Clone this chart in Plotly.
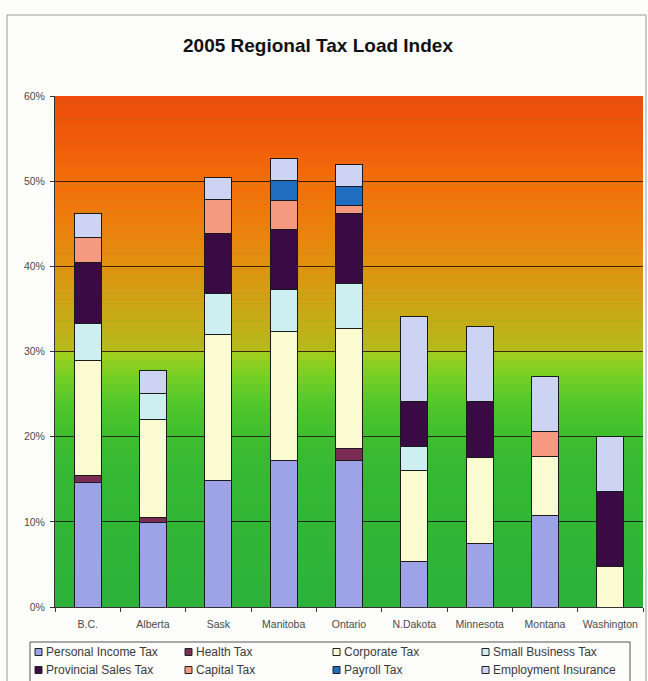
import plotly.graph_objects as go

# ---- data (percent of income) ----
regions = ["B.C.", "Alberta", "Sask", "Manitoba", "Ontario",
           "N.Dakota", "Minnesota", "Montana", "Washington"]

personal_income = [14.6, 9.9, 14.8, 17.2, 17.2, 5.4, 7.5, 10.7, 0.0]
health = [0.8, 0.6, 0.0, 0.0, 1.4, 0.0, 0.0, 0.0, 0.0]
corporate = [13.6, 11.5, 17.2, 15.1, 14.1, 10.6, 10.0, 7.0, 4.7]
small_business = [4.3, 3.1, 4.8, 5.0, 5.3, 2.9, 0.0, 0.0, 0.0]
provincial_sales = [7.2, 0.0, 7.1, 7.0, 8.2, 5.2, 6.6, 0.0, 8.9]
capital = [2.9, 0.0, 4.0, 3.4, 1.0, 0.0, 0.0, 2.9, 0.0]
payroll = [0.0, 0.0, 0.0, 2.4, 2.2, 0.0, 0.0, 0.0, 0.0]
employment_ins = [2.8, 2.7, 2.5, 2.6, 2.6, 10.0, 8.8, 6.5, 6.4]

series_names = ["Personal Income Tax", "Health Tax", "Corporate Tax",
                "Small Business Tax", "Provincial Sales Tax", "Capital Tax",
                "Payroll Tax", "Employment Insurance"]
series_values = [personal_income, health, corporate, small_business,
                 provincial_sales, capital, payroll, employment_ins]
series_colors = ["#9da3e6", "#7a2c55", "#fbfbd2", "#cdeff2",
                 "#3a0a45", "#f59a80", "#1f6dbf", "#cdd3f2"]

y_ticks = [0, 10, 20, 30, 40, 50, 60]
y_tick_labels = ["0%", "10%", "20%", "30%", "40%", "50%", "60%"]

FONT = "Liberation Sans, Arial, sans-serif"
W, H = 648, 681
L, R, T, B = 55, 5, 96, 74
PW, PH = W - L - R, H - T - B


def px_x(x):
    return (x - L) / PW


def px_y(y):
    return (H - B - y) / PH


fig = go.Figure()

for name, vals, col in zip(series_names, series_values, series_colors):
    fig.add_trace(go.Bar(
        x=regions,
        y=[v if v > 0 else None for v in vals],
        name=name,
        marker=dict(color=col, line=dict(color="#1a1a1a", width=1)),
        showlegend=False,
    ))

shapes = []

# background gradient, green at the bottom to orange-red at the top
stops = [
    (0, (44, 178, 58)), (15, (52, 184, 52)), (20, (62, 190, 46)),
    (24, (82, 200, 42)), (27, (118, 208, 36)), (29.8, (160, 206, 30)),
    (30.2, (182, 186, 28)), (35, (204, 166, 22)), (40, (224, 146, 16)),
    (45, (238, 126, 12)), (50, (243, 110, 10)), (55, (240, 90, 10)),
    (60, (236, 76, 10)),
]


def grad_color(v):
    for (v0, c0), (v1, c1) in zip(stops[:-1], stops[1:]):
        if v0 <= v <= v1:
            t = (v - v0) / (v1 - v0) if v1 > v0 else 0
            c = [round(a + (b - a) * t) for a, b in zip(c0, c1)]
            return "rgb(%d,%d,%d)" % tuple(c)
    return "rgb(%d,%d,%d)" % stops[-1][1]


step = 0.4
n = int(60 / step)
for i in range(n):
    lo = i * step
    hi = min(60, lo + step + 0.05)
    shapes.append(dict(
        type="rect", xref="paper", yref="y", x0=0, x1=1, y0=lo, y1=hi,
        fillcolor=grad_color(lo + step / 2), line=dict(width=0), layer="below",
    ))

# outer chart frame
shapes.append(dict(
    type="rect", xref="paper", yref="paper",
    x0=px_x(7), x1=px_x(646), y0=px_y(700), y1=px_y(15),
    line=dict(color="#9a9a9a", width=1), fillcolor="rgba(0,0,0,0)", layer="below",
))

# legend box
shapes.append(dict(
    type="rect", xref="paper", yref="paper",
    x0=px_x(30), x1=px_x(630), y0=px_y(700), y1=px_y(642),
    line=dict(color="#555555", width=1), fillcolor="rgba(0,0,0,0)",
))

annotations = []
col_x = [35, 185, 333, 482]
row_y = [652, 670]
for i, (name, col) in enumerate(zip(series_names, series_colors)):
    cx = col_x[i % 4]
    cy = row_y[i // 4]
    shapes.append(dict(
        type="rect", xref="paper", yref="paper",
        x0=px_x(cx), x1=px_x(cx + 7), y0=px_y(cy + 3.5), y1=px_y(cy - 3.5),
        fillcolor=col, line=dict(color="#222222", width=1),
    ))
    annotations.append(dict(
        xref="paper", yref="paper", x=px_x(cx + 9), y=px_y(cy),
        xanchor="left", yanchor="middle", showarrow=False, text=name,
        font=dict(family=FONT, size=12, color="#3a3a3a"),
    ))

fig.update_layout(
    width=W, height=H,
    margin=dict(l=L, r=R, t=T, b=B),
    paper_bgcolor="#fdfdfb",
    plot_bgcolor="#3cb43c",
    barmode="stack",
    bargap=0.59,
    title=dict(
        text="<b>2005 Regional Tax Load Index</b>",
        x=318 / W, xanchor="center", y=1 - 45 / H, yanchor="middle",
        font=dict(family=FONT, size=19, color="#111111"),
    ),
    xaxis=dict(
        type="category", tickson="boundaries", ticks="outside", ticklen=4,
        tickcolor="#333333", showline=True, linecolor="#333333",
        showgrid=False, ticklabelstandoff=7,
        tickfont=dict(family=FONT, size=10.5, color="#4a4a4a"),
    ),
    yaxis=dict(
        range=[0, 60], tickmode="array", tickvals=y_ticks,
        ticktext=y_tick_labels, ticks="outside",
        ticklen=4, tickcolor="#333333", showline=True, linecolor="#333333",
        showgrid=True, gridcolor="rgba(30,15,0,0.85)", gridwidth=1,
        zeroline=False, ticklabelstandoff=3,
        tickfont=dict(family=FONT, size=10.5, color="#4a4a4a"),
    ),
    shapes=shapes,
    annotations=annotations,
    showlegend=False,
)

fig.write_html("out.html")
